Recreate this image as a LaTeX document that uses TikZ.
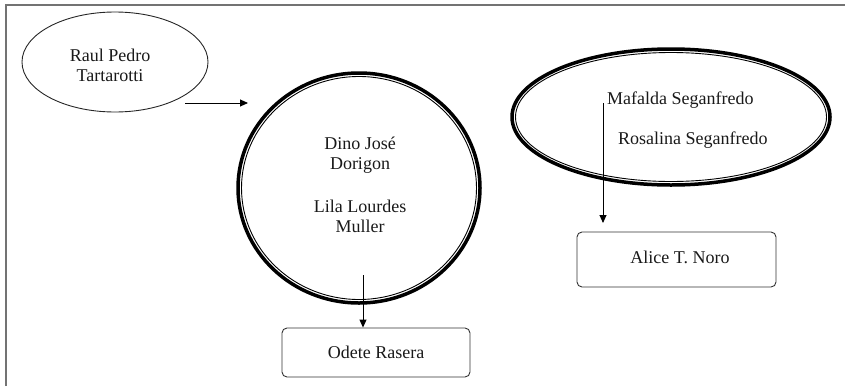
\documentclass[tikz,border=0pt]{standalone}
\usepackage{fontspec}
\setmainfont{Liberation Serif}
\usetikzlibrary{shapes.geometric,arrows.meta}
\begin{document}
\begin{tikzpicture}[x=1pt,y=-1pt,
  txt/.style={font=\fontsize{18}{20}\selectfont, inner sep=0pt, text=black!90, align=center},
  thinell/.style={ellipse, draw=black!85, line width=0.9pt, inner sep=0pt},
  thickell/.style={ellipse, draw=black, line width=3.5pt, inner sep=0pt},
  innerell/.style={ellipse, draw=black, line width=0.9pt, inner sep=0pt},
  rbox/.style={rectangle, rounded corners=5pt, draw=black!80, line width=0.9pt, inner sep=0pt},
  arr/.style={draw=black, line width=0.9pt, -{Triangle[length=8pt,width=7pt]}},
  frame/.style={draw=black!55, line width=1.6pt}
]
\useasboundingbox (0,0) rectangle (845,386);
% frame (top and left only)
\coordinate (fbl) at (6,386);
\coordinate (ftl) at (6,5);
\coordinate (ftr) at (845,5);
\draw[frame] (fbl) -- (ftl) -- (ftr);

% Raul
\node[thinell, minimum width=186pt, minimum height=100pt] (raul) at (115,62) {};
\node[txt] (raultxt) at (110,65) {Raul Pedro\\Tartarotti};
\coordinate (a1s) at (185,103);
\coordinate (a1e) at (248,103);
\draw[arr] (a1s) -- (a1e);

% Dino circle
\node[thickell, minimum width=242pt, minimum height=230pt] (dino) at (359,188) {};
\node[innerell, minimum width=235pt, minimum height=223pt] (dinoin) at (359,188) {};
\node[txt] (dinotxt) at (360,155) {Dino José\\Dorigon};
\node[txt] (lilatxt) at (360,216) {Lila Lourdes\\Muller};
\coordinate (a2s) at (363,275);
\node[rbox, minimum width=188pt, minimum height=49pt] (odete) at (376,352.5) {};
\node[txt] (odetetxt) at (376,352) {Odete Rasera};
\draw[arr] (a2s) -- (odete.north -| a2s);

% Mafalda ellipse
\node[thickell, minimum width=318pt, minimum height=136pt] (maf) at (671,117) {};
\node[innerell, minimum width=311pt, minimum height=129pt] (mafin) at (671,117) {};
\node[txt, anchor=west] (maftxt) at (607,100) {Mafalda Seganfredo};
\node[txt, anchor=west] (rostxt) at (618,140) {Rosalina Seganfredo};
\coordinate (a3s) at (603,103);
\coordinate (a3e) at (603,223);
\draw[arr] (a3s) -- (a3e);
\node[rbox, minimum width=199pt, minimum height=55pt] (alice) at (676.5,259.5) {};
\node[txt] (alicetxt) at (680,257) {Alice T. Noro};
\end{tikzpicture}
\end{document}
